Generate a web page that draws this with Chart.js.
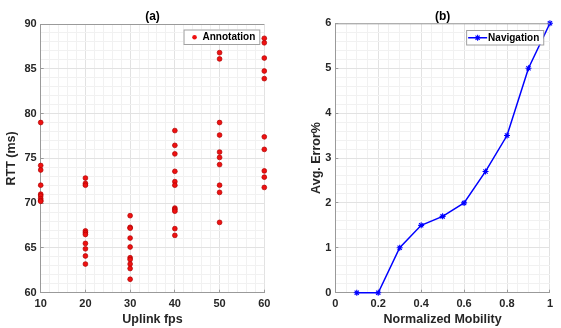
<!DOCTYPE html>
<html>
<head>
<meta charset="utf-8">
<script src="https://cdn.jsdelivr.net/npm/chart.js@4.4.1/dist/chart.umd.min.js"></script>
<style>
  html, body { margin: 0; padding: 0; background: #fff; }
  #wrap { position: relative; width: 561px; height: 328px; overflow: hidden; }
  canvas { position: absolute; top: 0; }
</style>
</head>
<body>
<div id="wrap">
  <canvas id="left" width="280" height="328" style="left:0"></canvas>
  <canvas id="right" width="281" height="328" style="left:280px"></canvas>
</div>
<script>
// (a) RTT samples per uplink fps
const fpsLevels = [10, 20, 30, 40, 50, 60];
const rttAt10 = [79.0, 74.2, 73.7, 72.0, 71.0, 70.8, 70.5, 70.3, 70.2];
const rttAt20 = [72.8, 72.2, 72.0, 66.9, 66.7, 66.5, 65.5, 64.9, 64.1, 63.2];
const rttAt30 = [68.6, 67.3, 67.2, 66.1, 65.1, 63.9, 63.7, 63.2, 62.7, 61.5];
const rttAt40 = [78.1, 76.45, 75.5, 73.55, 72.4, 72.0, 69.45, 69.3, 69.1, 67.15, 66.4];
const rttAt50 = [86.8, 86.1, 79.0, 77.6, 75.7, 75.1, 74.3, 72.0, 71.2, 67.85];
const rttAt60 = [88.4, 87.9, 86.2, 84.75, 83.9, 77.4, 76.0, 73.6, 72.9, 71.75];
const rttByFps = [rttAt10, rttAt20, rttAt30, rttAt40, rttAt50, rttAt60];

// (b) navigation error vs mobility
const mobility = [0.1, 0.2, 0.3, 0.4, 0.5, 0.6, 0.7, 0.8, 0.9, 1.0];
const avgError = [0, 0, 1, 1.5, 1.7, 2, 2.7, 3.5, 5, 6];

const FONT = '"Liberation Sans", Arial, Helvetica, sans-serif';
const TEXT = '#262626';
const AXIS = '#9a9a9a';
const GRID_MAJOR = '#e2e2e2';
const GRID_MINOR = '#f1f1f1';

Chart.defaults.font.family = FONT;

const annotationPoints = [];
fpsLevels.forEach((fps, i) => {
  rttByFps[i].forEach(v => annotationPoints.push({ x: fps, y: v }));
});
const navigationPoints = mobility.map((m, i) => ({ x: m, y: avgError[i] }));

const near = (v, step) => Math.abs(v / step - Math.round(v / step)) < 1e-6;

// title above the plot area + boxed legend in the top right corner
const panelDecor = {
  id: 'panelDecor',
  afterDraw(chart, args, opts) {
    const ctx = chart.ctx;
    const a = chart.chartArea;
    ctx.save();
    // top frame line
    ctx.strokeStyle = AXIS;
    ctx.lineWidth = 1;
    ctx.beginPath();
    ctx.moveTo(a.left, a.top + 0.5);
    ctx.lineTo(a.right, a.top + 0.5);
    ctx.stroke();

    ctx.fillStyle = '#000';
    ctx.font = 'bold 12px ' + FONT;
    ctx.textAlign = 'center';
    ctx.textBaseline = 'middle';
    ctx.fillText(opts.title, (a.left + a.right) / 2, 16.5);

    const ds = chart.data.datasets[0];
    ctx.font = 'bold 10px ' + FONT;
    const tw = ctx.measureText(ds.label).width;
    const w = opts.textOffset + tw + 4;
    const h = 14.5;
    const x0 = a.right - opts.rightGap - w;
    const y0 = a.top + opts.topGap;
    ctx.fillStyle = '#fff';
    ctx.fillRect(x0, y0, w, h);
    ctx.strokeStyle = '#a0a0a0';
    ctx.strokeRect(x0 + 0.5, y0 + 0.5, w, h);
    const cy = y0 + h / 2 + 0.5;
    if (opts.kind === 'dot') {
      ctx.fillStyle = ds.backgroundColor;
      ctx.beginPath();
      ctx.arc(x0 + 11, cy, 2.3, 0, Math.PI * 2);
      ctx.fill();
    } else {
      ctx.strokeStyle = ds.borderColor;
      ctx.lineWidth = 1.5;
      ctx.beginPath();
      ctx.moveTo(x0 + 2, cy);
      ctx.lineTo(x0 + 21, cy);
      ctx.stroke();
      const r = 3, cx = x0 + 11.5;
      ctx.lineWidth = 1.1;
      ctx.beginPath();
      ctx.moveTo(cx - r, cy); ctx.lineTo(cx + r, cy);
      ctx.moveTo(cx, cy - r); ctx.lineTo(cx, cy + r);
      const d = r * 0.7;
      ctx.moveTo(cx - d, cy - d); ctx.lineTo(cx + d, cy + d);
      ctx.moveTo(cx - d, cy + d); ctx.lineTo(cx + d, cy - d);
      ctx.stroke();
    }
    ctx.fillStyle = '#000';
    ctx.textAlign = 'left';
    ctx.fillText(ds.label, x0 + opts.textOffset, cy);
    ctx.restore();
  }
};

const tickFont = { family: FONT, size: 11, weight: 'bold' };
const titleFont = { family: FONT, size: 12.5, weight: 'bold' };

function gridFor(step) {
  return {
    drawTicks: true,
    tickLength: -3,
    color: c => (c.tick && near(c.tick.value, step) ? GRID_MAJOR : GRID_MINOR),
    tickColor: c => (c.tick && near(c.tick.value, step) ? AXIS : 'rgba(0,0,0,0)')
  };
}

new Chart(document.getElementById('left'), {
  type: 'scatter',
  data: {
    datasets: [{
      label: 'Annotation',
      data: annotationPoints,
      pointRadius: 2.4,
      backgroundColor: '#ee1111',
      borderColor: '#b00000',
      borderWidth: 0.7,
      clip: false
    }]
  },
  options: {
    responsive: false,
    animation: false,
    layout: { padding: { top: 24, right: 15.7, left: 0, bottom: 0 } },
    plugins: {
      legend: { display: false },
      tooltip: { enabled: false },
      panelDecor: { title: '(a)', kind: 'dot', textOffset: 19, rightGap: 5, topGap: 5.5 }
    },
    scales: {
      x: {
        type: 'linear', min: 10, max: 60,
        afterFit: s => { s.height = 35.3; },
        ticks: {
          stepSize: 2, autoSkip: false, maxRotation: 0, padding: 8,
          color: TEXT, font: tickFont,
          callback: v => (near(v, 10) ? String(Math.round(v)) : '')
        },
        grid: gridFor(10),
        border: { color: AXIS },
        title: { display: true, text: 'Uplink fps', color: TEXT, font: titleFont, padding: { top: 0, bottom: 0.5 } }
      },
      y: {
        type: 'linear', min: 60, max: 90,
        afterFit: s => { s.width = 40.7; },
        ticks: {
          stepSize: 1, autoSkip: false, padding: 7,
          color: TEXT, font: tickFont,
          callback: v => (near(v, 5) ? String(Math.round(v)) : '')
        },
        grid: gridFor(5),
        border: { color: AXIS },
        title: { display: true, text: 'RTT (ms)', color: TEXT, font: titleFont, padding: { top: 4.5, bottom: 0 } }
      }
    }
  },
  plugins: [panelDecor]
});

new Chart(document.getElementById('right'), {
  type: 'line',
  data: {
    datasets: [{
      label: 'Navigation',
      data: navigationPoints,
      borderColor: '#0000ff',
      backgroundColor: '#0000ff',
      borderWidth: 1.5,
      pointStyle: 'star',
      pointRadius: 3,
      pointBorderWidth: 1.1,
      tension: 0,
      fill: false,
      clip: false
    }]
  },
  options: {
    responsive: false,
    animation: false,
    layout: { padding: { top: 23.3, right: 1, left: 0, bottom: 0 } },
    plugins: {
      legend: { display: false },
      tooltip: { enabled: false },
      panelDecor: { title: '(b)', kind: 'line', textOffset: 22, rightGap: 6.7, topGap: 6.7 }
    },
    scales: {
      x: {
        type: 'linear', min: 0, max: 1,
        afterFit: s => { s.height = 35.3; },
        ticks: {
          stepSize: 0.05, autoSkip: false, maxRotation: 0, padding: 8,
          color: TEXT, font: tickFont,
          callback: v => {
            if (!near(v, 0.2)) return '';
            const r = Math.round(v * 10) / 10;
            return (r === 0 || r === 1) ? String(r) : r.toFixed(1);
          }
        },
        grid: gridFor(0.2),
        border: { color: AXIS },
        title: { display: true, text: 'Normalized Mobility', color: TEXT, font: titleFont, padding: { top: 0, bottom: 0.5 } }
      },
      y: {
        type: 'linear', min: 0, max: 6,
        afterFit: s => { s.width = 55.3; },
        ticks: {
          stepSize: 0.2, autoSkip: false, padding: 7,
          color: TEXT, font: tickFont,
          callback: v => (near(v, 1) ? String(Math.round(v)) : '')
        },
        grid: gridFor(1),
        border: { color: AXIS },
        title: { display: true, text: 'Avg. Error%', color: TEXT, font: titleFont, padding: { top: 29.5, bottom: 0 } }
      }
    }
  },
  plugins: [panelDecor]
});
</script>
</body>
</html>
